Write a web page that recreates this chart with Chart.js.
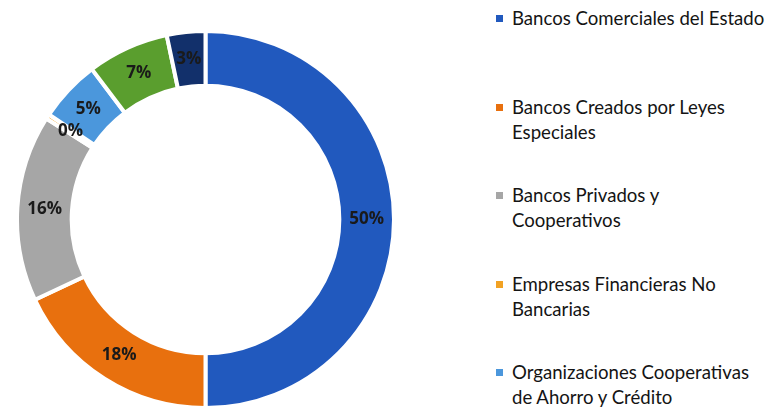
<!DOCTYPE html>
<html>
<head>
<meta charset="utf-8">
<script src="https://cdn.jsdelivr.net/npm/chart.js@4.4.1/dist/chart.umd.min.js"></script>
<style>
  body { margin: 0; background: #fff; width: 774px; height: 411px; overflow: hidden; position: relative; }
  #wrap { position: absolute; left: 15px; top: 29px; width: 381px; height: 381px; }
  #legend { position: absolute; left: 0; top: 0; font-family: Lato, "Open Sans", sans-serif; font-size: 18.6px; color: #141414; }
  .item { position: absolute; left: 496px; width: 278px; line-height: 25px; white-space: nowrap; }
  .item span.box { position: absolute; left: 0; top: 9px; width: 7px; height: 7px; }
  .item div { margin-left: 16px; }
</style>
</head>
<body>
<div id="wrap"><canvas id="chart"></canvas></div>
<div id="legend"></div>
<script>
const categories = [
  'Bancos Comerciales del Estado',
  'Bancos Creados por Leyes Especiales',
  'Bancos Privados y Cooperativos',
  'Empresas Financieras No Bancarias',
  'Organizaciones Cooperativas de Ahorro y Crédito',
  'Entidades Autorizadas del Sistema Financiero para la Vivienda',
  'Otras Entidades Financieras'
];
const shares = [50, 18, 16, 0.4, 5.3, 7, 3.3];
const colors = ['#2159be', '#e8700e', '#a6a6a6', '#f2a223', '#4b97dc', '#5a9e2e', '#12306b'];
// legend text as it wraps in the picture (only the first five entries are visible)
const legendLines = [
  ['Bancos Comerciales del Estado'],
  ['Bancos Creados por Leyes', 'Especiales'],
  ['Bancos Privados y', 'Cooperativos'],
  ['Empresas Financieras No', 'Bancarias'],
  ['Organizaciones Cooperativas', 'de Ahorro y Crédito']
];

const pctLabels = {
  id: 'pctLabels',
  afterDatasetsDraw(chart) {
    const ctx = chart.ctx;
    const meta = chart.getDatasetMeta(0);
    const total = shares.reduce((a, b) => a + b, 0);
    ctx.save();
    ctx.font = 'bold 17px "Open Sans", sans-serif';
    ctx.fillStyle = '#1a1a1a';
    ctx.textAlign = 'center';
    ctx.textBaseline = 'middle';
    meta.data.forEach(function(arc, i){
      const p = arc.tooltipPosition();
      ctx.fillText(Math.round(shares[i] / total * 100) + '%', p.x, p.y);
    });
    ctx.restore();
  }
};

new Chart(document.getElementById('chart'), {
  type: 'doughnut',
  data: {
    labels: categories,
    datasets: [{
      data: shares,
      backgroundColor: colors,
      borderColor: '#fff',
      borderWidth: 4
    }]
  },
  options: {
    responsive: true,
    maintainAspectRatio: false,
    animation: false,
    cutout: '71%',
    layout: { padding: 0 },
    plugins: {
      legend: { display: false },
      tooltip: { enabled: false }
    }
  },
  plugins: [pctLabels]
});

const legend = document.getElementById('legend');
legendLines.forEach(function(lines, i){
  const item = document.createElement('div');
  item.className = 'item';
  item.style.top = (6 + i * 88.5) + 'px';
  const box = document.createElement('span');
  box.className = 'box';
  box.style.background = colors[i];
  item.appendChild(box);
  const txt = document.createElement('div');
  txt.innerHTML = lines.join('<br>');
  item.appendChild(txt);
  legend.appendChild(item);
});
</script>
</body>
</html>
